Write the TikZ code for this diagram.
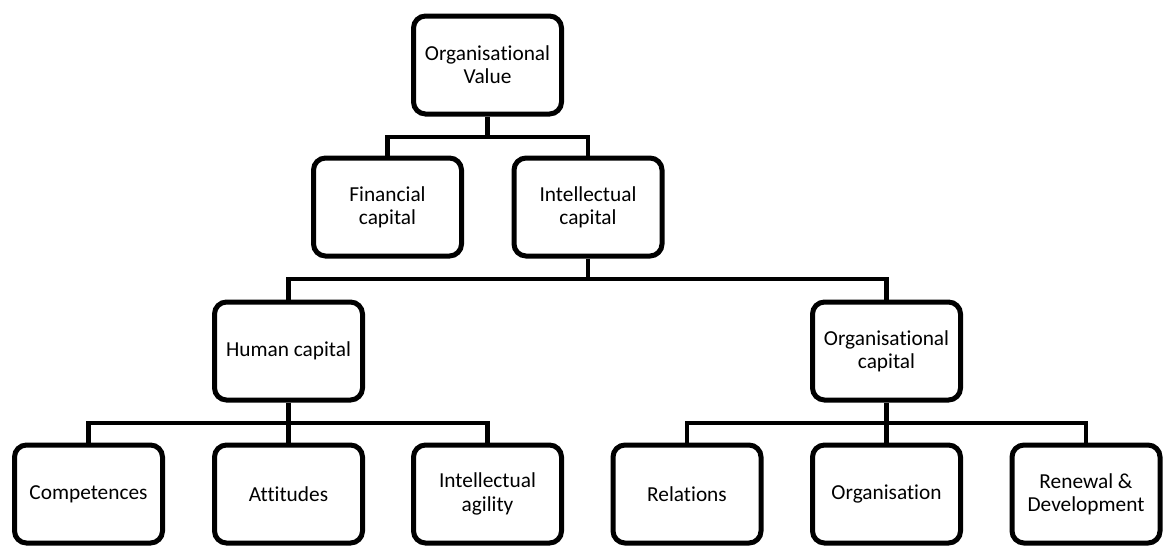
\documentclass[tikz,border=0pt]{standalone}
\usepackage{fontspec}
\setmainfont{Carlito}[Ligatures={NoCommon}]
\begin{document}
\begin{tikzpicture}[x=0.75pt,y=-0.75pt,
  box/.style={draw=black,line width=3.75pt,rounded corners=9pt,fill=white,
    minimum width=111pt,minimum height=73.5pt,inner sep=2pt,align=center,
    font=\fontsize{16}{17.5}\selectfont},
  link/.style={draw=black,line width=3.2pt}]
\useasboundingbox (0,0) rectangle (1163,546);
% hierarchy boxes
\node[box] (ov) at (487.5,65) {Organisational\\Value};
\node[box] (fc) at (387.5,207) {Financial\\capital};
\node[box] (ic) at (588,207) {Intellectual\\capital};
\node[box] (hc) at (288.5,351) {Human capital};
\node[box] (oc) at (886.5,351) {Organisational\\capital};
\node[box] (co) at (88.5,494) {Competences};
\node[box] (at) at (288.5,494) {Attitudes};
\node[box] (ia) at (487.5,494) {Intellectual\\agility};
\node[box] (re) at (687,494) {Relations};
\node[box] (or) at (886.5,494) {Organisation};
\node[box] (rd) at (1086,494) {Renewal \&\\Development};
% bus levels
\coordinate (b1) at (0,137);
\coordinate (b2) at (0,279);
\coordinate (b3) at (0,423);
% connectors
\draw[link] (ov.south) -- (ov.south |- b1) -| (fc.north);
\draw[link] (ov.south |- b1) -| (ic.north);
\draw[link] (ic.south) -- (ic.south |- b2) -| (hc.north);
\draw[link] (ic.south |- b2) -| (oc.north);
\draw[link] (hc.south) -- (at.north);
\draw[link] (hc.south |- b3) -| (co.north);
\draw[link] (hc.south |- b3) -| (ia.north);
\draw[link] (oc.south) -- (or.north);
\draw[link] (oc.south |- b3) -| (re.north);
\draw[link] (oc.south |- b3) -| (rd.north);
\end{tikzpicture}
\end{document}
